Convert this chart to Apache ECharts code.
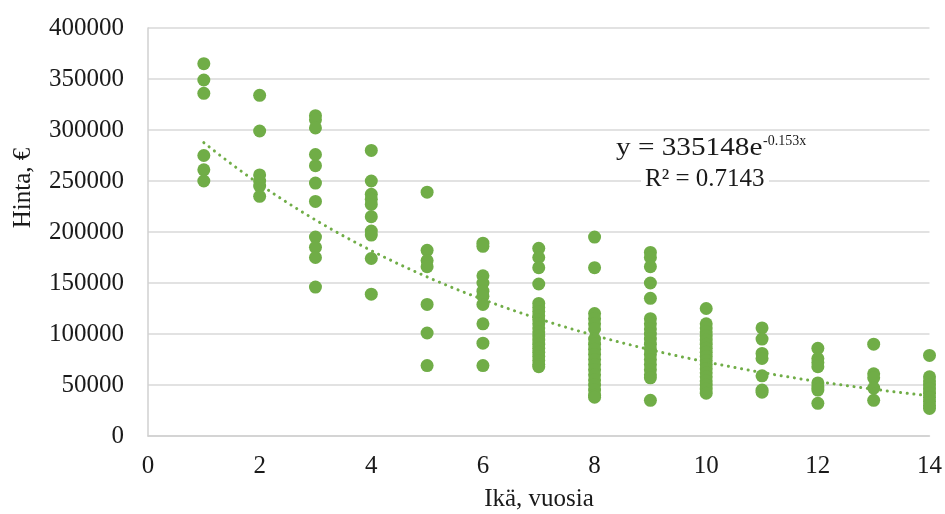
<!DOCTYPE html>
<html>
<head>
<meta charset="utf-8">
<script src="https://cdn.jsdelivr.net/npm/echarts@6/dist/echarts.min.js"></script>
<style>
  html, body { margin: 0; padding: 0; background: #ffffff; }
  #chart { width: 945px; height: 514px; }
</style>
</head>
<body>
<div id="chart"></div>
<script>
// Ages (years) and observed prices (€) for each age
const ages = [1, 2, 3, 4, 5, 6, 7, 8, 9, 10, 11, 12, 13, 14];
const price1 = [365000, 349000, 336000, 275000, 261000, 250000];
const price2 = [334000, 299000, 256000, 250000, 245000, 235000];
const price3 = [314000, 310000, 302000, 276000, 265000, 248000, 230000, 195000, 185000, 175000, 146000];
const price4 = [280000, 250000, 237000, 232000, 227000, 215000, 201000, 197000, 174000, 139000];
const price5 = [239000, 182000, 172000, 166000, 129000, 101000, 69000];
const price6 = [189000, 186000, 157000, 150000, 142000, 137000, 129000, 110000, 91000, 69000];
const price7 = [184000, 175000, 165000, 149000, 130000, 126000, 122000, 118000, 114000, 110000, 106000, 102000, 98000, 94000, 90000, 86000, 82000, 78000, 74000, 70000, 68000];
const price8 = [195000, 165000, 120000, 115000, 110000, 105000, 95000, 90000, 85000, 80000, 75000, 70000, 65000, 60000, 55000, 50000, 45000, 40000, 38000];
const price9 = [180000, 175000, 166000, 150000, 135000, 115000, 110000, 105000, 100000, 95000, 90000, 85000, 80000, 75000, 70000, 65000, 60000, 57000, 35000];
const price10 = [125000, 110000, 106000, 102000, 98000, 94000, 90000, 86000, 82000, 78000, 74000, 70000, 66000, 62000, 58000, 54000, 50000, 46000, 42000];
const price11 = [106000, 95000, 81000, 76000, 59000, 45000, 43000];
const price12 = [86000, 76000, 72000, 68000, 52000, 48000, 45000, 32000];
const price13 = [90000, 61000, 57000, 47000, 35000];
const price14 = [79000, 58000, 54000, 50000, 46000, 42000, 38000, 34000, 30000, 27000];
const pricesByAge = [price1, price2, price3, price4, price5, price6, price7,
                     price8, price9, price10, price11, price12, price13, price14];

// Exponential trendline y = A·e^(B·x), as given in the equation label
const trendA = 335148;
const trendB = -0.153;
const trendR2 = '0.7143';

const yTicks = [0, 50000, 100000, 150000, 200000, 250000, 300000, 350000, 400000];
const xTicks = [0, 2, 4, 6, 8, 10, 12, 14];

const scatterData = [];
ages.forEach((age, i) => {
  pricesByAge[i].forEach(p => scatterData.push([age, p]));
});

const trendData = [];
for (let k = 0; k <= 52; k++) {
  const x = ages[0] + k * (ages[ages.length - 1] - ages[0]) / 52;
  trendData.push([x, trendA * Math.exp(trendB * x)]);
}

const green = '#70AD47';
const serif = '"Liberation Serif", "Times New Roman", serif';
const textColor = '#1a1a1a';

const chart = echarts.init(document.getElementById('chart'));
chart.setOption({
  animation: false,
  backgroundColor: '#ffffff',
  grid: { left: 148, right: 15, top: 28, bottom: 78, containLabel: false },
  xAxis: {
    type: 'value',
    min: xTicks[0],
    max: xTicks[xTicks.length - 1],
    interval: 2,
    axisLine: { show: true, lineStyle: { color: '#d0d0d0', width: 1.5 } },
    axisTick: { show: false },
    splitLine: { show: false },
    axisLabel: { color: textColor, fontFamily: serif, fontSize: 25, margin: 18 }
  },
  yAxis: {
    type: 'value',
    min: yTicks[0],
    max: yTicks[yTicks.length - 1],
    interval: 50000,
    axisLine: { show: true, lineStyle: { color: '#d0d0d0', width: 1.5 } },
    axisTick: { show: false },
    splitLine: { show: true, lineStyle: { color: '#d9d9d9', width: 1.5 } },
    axisLabel: {
      color: textColor, fontFamily: serif, fontSize: 25, margin: 24,
      formatter: v => String(v)
    }
  },
  graphic: [
    {
      type: 'text',
      x: 539, y: 499,
      style: { text: 'Ikä, vuosia', fill: textColor, font: '25px ' + serif,
               align: 'center', verticalAlign: 'middle' }
    },
    {
      type: 'text',
      x: 23, y: 188,
      rotation: Math.PI / 2,
      style: { text: 'Hinta, €', fill: textColor, font: '25px ' + serif,
               align: 'center', verticalAlign: 'middle' }
    },
    // opaque backing under the R² line so the gridline does not cross it
    {
      type: 'rect',
      shape: { x: 641, y: 164, width: 128, height: 28 },
      style: { fill: '#ffffff' },
      z: 100
    },
    {
      type: 'text',
      x: 616, y: 148,
      scaleX: 1.17,
      z: 101,
      style: { text: 'y = ' + trendA + 'e', fill: textColor, font: '25px ' + serif,
               align: 'left', verticalAlign: 'middle' }
    },
    {
      type: 'text',
      x: 763, y: 141,
      z: 101,
      style: { text: trendB + 'x', fill: textColor, font: '14px ' + serif,
               align: 'left', verticalAlign: 'middle' }
    },
    {
      type: 'text',
      x: 645, y: 179.5,
      z: 101,
      style: { text: 'R² = ' + trendR2, fill: textColor, font: '25px ' + serif,
               align: 'left', verticalAlign: 'middle' }
    }
  ],
  series: [
    {
      type: 'scatter',
      data: scatterData,
      symbol: 'circle',
      symbolSize: 13,
      itemStyle: { color: green, opacity: 1 },
      z: 2
    },
    {
      type: 'line',
      data: trendData,
      showSymbol: false,
      smooth: false,
      lineStyle: { color: green, width: 3, type: [0.1, 6.6], cap: 'round' },
      z: 3
    }
  ]
});
</script>
</body>
</html>
